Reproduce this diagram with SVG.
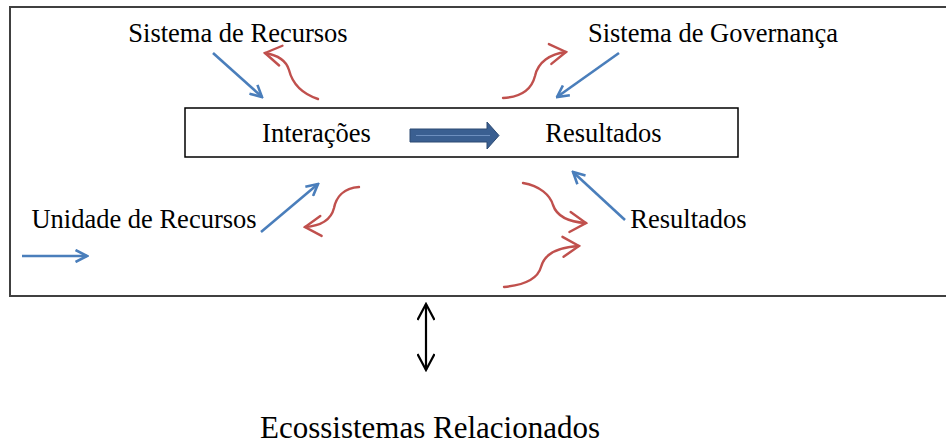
<svg xmlns="http://www.w3.org/2000/svg" width="946" height="446" viewBox="0 0 946 446">
<style>
text{font-family:"Liberation Serif","Times New Roman",serif;fill:#000;text-anchor:middle}
.lbl{font-size:26.5px}
.big{font-size:31px}
.blue{fill:none;stroke:#4a7ebb;stroke-width:2.6}
.red{fill:none;stroke:#c0504d;stroke-width:2.4;stroke-linecap:round}
</style>
<defs>
<marker id="ab" viewBox="0 0 14 14" refX="12.5" refY="7" markerWidth="14" markerHeight="14" markerUnits="userSpaceOnUse" orient="auto">
<path d="M1,1 L12.5,7 L1,13" fill="none" stroke="#4a7ebb" stroke-width="2.6"/>
</marker>
<marker id="ar" viewBox="0 0 20 24" refX="18" refY="12" markerWidth="20" markerHeight="24" markerUnits="userSpaceOnUse" orient="auto">
<path d="M2,2 L18,12 L2,22" fill="none" stroke="#c0504d" stroke-width="2.4" stroke-linecap="round"/>
</marker>
<marker id="ak" viewBox="0 0 24 18" refX="22" refY="9" markerWidth="24" markerHeight="18" markerUnits="userSpaceOnUse" orient="auto-start-reverse">
<path d="M6,0.5 L22,9 L6,17.5" fill="none" stroke="#000" stroke-width="2.2"/>
</marker>
</defs>
<g id="frame">
<rect x="10" y="7" width="945" height="289" fill="none" stroke="#404040" stroke-width="2"/>
</g>
<g id="sistema-recursos"><text class="lbl" x="238" y="42">Sistema de Recursos</text></g>
<g id="sistema-governanca"><text class="lbl" x="713" y="42">Sistema de Governança</text></g>
<g id="interacoes-resultados">
<rect x="185" y="108" width="553" height="49" fill="#fff" stroke="#000" stroke-width="1.5"/>
<text class="lbl" x="316.5" y="142">Interações</text>
<text class="lbl" x="603.5" y="142">Resultados</text>
</g>
<g id="unidade-recursos"><text class="lbl" x="144" y="228">Unidade de Recursos</text></g>
<g id="resultados"><text class="lbl" x="688.5" y="228">Resultados</text></g>
<g id="ecossistemas"><text class="big" x="430" y="438">Ecossistemas Relacionados</text></g>
<g id="connectors">
<path d="M410,129 H487 V122 L499,135.5 L487,149 V142 H410 Z" fill="#3a5f91" stroke="#2c4a73" stroke-width="1"/>
<line x1="416" y1="135.5" x2="490" y2="135.5" stroke="#6d8fbf" stroke-width="1.2"/>
<line class="blue" x1="213" y1="53" x2="262" y2="97" marker-end="url(#ab)"/>
<line class="blue" x1="619" y1="53" x2="557" y2="97" marker-end="url(#ab)"/>
<line class="blue" x1="261" y1="232" x2="318" y2="184" marker-end="url(#ab)"/>
<line class="blue" x1="625" y1="220" x2="573" y2="172" marker-end="url(#ab)"/>
<line class="blue" x1="22" y1="256" x2="87" y2="256" marker-end="url(#ab)"/>
<path class="red" d="M318,99 C300,93 292,82 289,70 C286,60 277,55 265,53" marker-end="url(#ar)"/>
<path class="red" d="M503,98 C522,97 532,88 535,76 C538,62 550,54 566,52" marker-end="url(#ar)"/>
<path class="red" d="M359,187 C343,188 336,198 334,208 C331,220 320,226 305,227" marker-end="url(#ar)"/>
<path class="red" d="M523,183 C540,186 550,195 553,205 C557,217 570,222 586,223" marker-end="url(#ar)"/>
<path class="red" d="M504,287 C525,285 538,278 541,267 C545,252 560,247 579,246" marker-end="url(#ar)"/>
<line x1="426" y1="304" x2="426" y2="370" stroke="#000" stroke-width="2.2" marker-start="url(#ak)" marker-end="url(#ak)"/>
</g>
</svg>
